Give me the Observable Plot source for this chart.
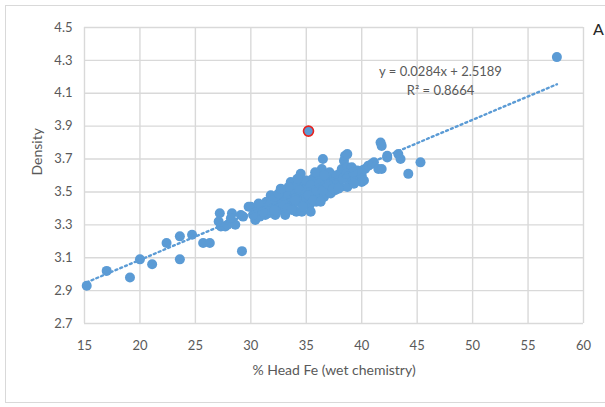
<!DOCTYPE html>
<html><head><meta charset="utf-8">
<script src="https://cdn.jsdelivr.net/npm/d3@7"></script>
<script src="https://cdn.jsdelivr.net/npm/@observablehq/plot@0.6"></script>
<style>
body{margin:0;background:#fff;}
#wrap{position:relative;width:605px;height:407px;overflow:hidden;font-family:Lato, sans-serif;}
#frame{position:absolute;left:5px;top:5px;width:660px;height:398px;border:1px solid #d9d9d9;box-sizing:border-box;}
#chart{position:absolute;left:0;top:0;}
#letter{position:absolute;left:593px;top:19px;font-size:16px;color:#262626;font-family:Lato, sans-serif;}
</style></head><body>
<div id="wrap"><div id="frame"></div><div id="chart"></div><div id="letter">A</div></div>
<script>
const fe = [15.2,17.0,19.1,20.0,21.1,22.4,23.6,23.6,24.7,25.7,26.3,29.2,27.2,27.1,27.3,27.7,28.3,28.6,27.9,28.2,
  29.1,29.3,29.8,30.4,30.9,30.0,31.0,31.3,31.6,31.8,31.4,31.9,32.2,32.4,32.6,32.8,33.1,33.0,33.2,33.4,
  33.6,33.6,33.5,33.8,33.9,34.0,34.1,34.2,34.3,34.5,34.5,34.6,34.7,34.8,34.9,35.0,35.1,35.3,35.4,35.5,
  35.6,35.7,35.8,35.9,36.0,36.1,36.2,36.4,36.5,36.4,36.6,36.7,36.8,37.0,37.1,37.2,37.3,37.5,37.6,37.8,
  38.0,38.1,38.2,38.4,38.5,38.7,38.7,38.7,38.9,39.0,39.1,39.1,39.4,39.8,40.0,40.0,40.2,40.3,40.6,40.9,
  41.1,41.5,41.8,41.7,41.8,42.3,42.3,43.3,43.5,44.2,45.3,57.6,
  30.5,30.8,31.2,31.5,32.0,32.3,32.5,32.9,33.3,33.7,34.0,34.4,34.7,35.0,35.2,35.4,35.6,35.9,36.2,36.5,
  36.9,37.4,37.7,38.3,38.6,39.3,39.6,35.8,36.3,34.2,33.4,32.7,30.2,30.7,31.1,31.7,32.1,36.6,37.9,39.2];
const density = [2.93,3.02,2.98,3.09,3.06,3.19,3.23,3.09,3.24,3.19,3.19,3.14,3.37,3.32,3.29,3.29,3.37,3.30,3.30,3.34,
  3.36,3.35,3.41,3.33,3.39,3.41,3.40,3.36,3.37,3.48,3.44,3.40,3.36,3.42,3.46,3.39,3.36,3.44,3.50,3.48,
  3.56,3.53,3.42,3.46,3.43,3.50,3.38,3.54,3.47,3.61,3.44,3.38,3.52,3.49,3.56,3.46,3.53,3.42,3.38,3.50,
  3.58,3.47,3.55,3.44,3.52,3.60,3.49,3.64,3.70,3.56,3.47,3.53,3.58,3.50,3.62,3.49,3.55,3.58,3.51,3.56,
  3.61,3.53,3.64,3.69,3.72,3.73,3.53,3.65,3.58,3.62,3.65,3.59,3.59,3.62,3.60,3.56,3.57,3.64,3.66,3.67,
  3.68,3.64,3.64,3.80,3.78,3.71,3.72,3.73,3.70,3.61,3.68,4.32,
  3.38,3.35,3.42,3.39,3.45,3.38,3.49,3.43,3.40,3.39,3.45,3.51,3.41,3.57,3.48,3.54,3.45,3.51,3.55,3.51,
  3.55,3.52,3.60,3.58,3.61,3.55,3.63,3.62,3.44,3.58,3.53,3.52,3.36,3.43,3.38,3.42,3.39,3.60,3.52,3.62];
const highlightFe = [35.2];
const highlightDensity = [3.87];
const xTicks = [15,20,25,30,35,40,45,50,55,60];
const yTicks = [2.7,2.9,3.1,3.3,3.5,3.7,3.9,4.1,4.3,4.5];
const slope = 0.0284, intercept = 2.5189, rSquared = 0.8664;
const xTitle = "% Head Fe (wet chemistry)";
const yTitle = "Density";
const eqText = "y = 0.0284x + 2.5189";
const r2Text = "R² = 0.8664";

const points = fe.map((x, i) => ({x, y: density[i]}));
const highlight = highlightFe.map((x, i) => ({x, y: highlightDensity[i]}));
const xmin = d3.min(fe), xmax = d3.max(fe);
const trend = [xmin, xmax].map(x => ({x, y: slope * x + intercept}));

const blue = "#5b9bd5";
const grid = {stroke: "#d9d9d9", strokeOpacity: 1, strokeWidth: 1.4};

const chart = Plot.plot({
  width: 605, height: 407,
  marginLeft: 84, marginRight: 22, marginTop: 27, marginBottom: 84,
  style: {fontFamily: "Lato, sans-serif", fontSize: "13px", color: "#595959", background: "transparent"},
  x: {domain: [15, 60], label: null},
  y: {domain: [2.7, 4.5], label: null},
  marks: [
    Plot.gridX(xTicks, grid),
    Plot.gridY(yTicks, grid),
    Plot.axisX(xTicks, {tickSize: 0, tickPadding: 17, label: null, fontSize: 13}),
    Plot.axisY(yTicks, {tickSize: 0, tickPadding: 12, label: null, fontSize: 13, tickFormat: d => d.toFixed(1)}),
    Plot.text([xTitle], {frameAnchor: "bottom", dy: 51, fontSize: 14, fill: "#595959"}),
    Plot.text([yTitle], {frameAnchor: "left", dx: -47, rotate: -90, fontSize: 14, fill: "#595959"}),
    Plot.dot(points, {x: "x", y: "y", r: 5, fill: blue, stroke: "none"}),
    Plot.dot(highlight, {x: "x", y: "y", r: 5, fill: blue, stroke: "#e8231f", strokeWidth: 1.6}),
    Plot.line(trend, {x: "x", y: "y", stroke: blue, strokeWidth: 2.4, strokeDasharray: "2 3.2"}),
    Plot.text([eqText], {frameAnchor: "top-right", dx: -143, dy: 39, textAnchor: "middle", fontSize: 13, fill: "#595959"}),
    Plot.text([r2Text], {frameAnchor: "top-right", dx: -143, dy: 58, textAnchor: "middle", fontSize: 13, fill: "#595959"})
  ]
});
document.getElementById("chart").appendChild(chart);
</script>
</body></html>
